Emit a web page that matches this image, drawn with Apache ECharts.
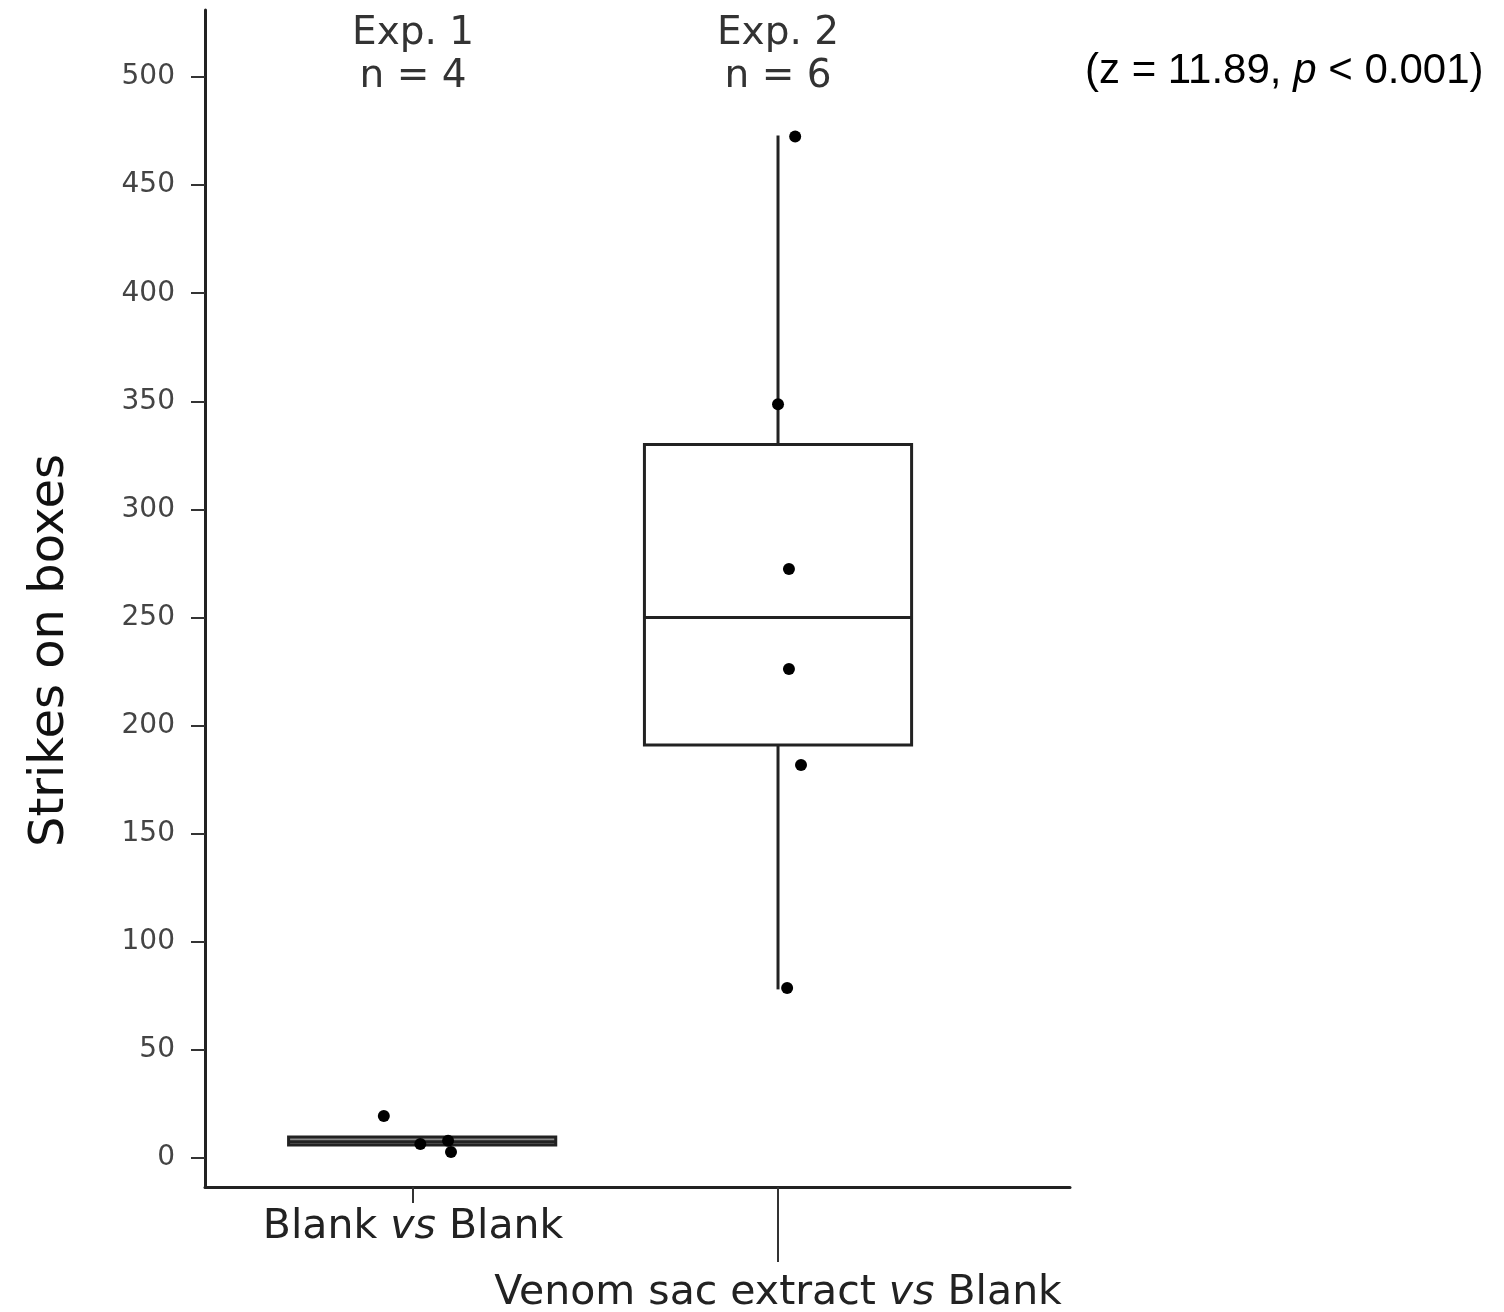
<!DOCTYPE html>
<html><head><meta charset="utf-8">
<script src="https://cdn.jsdelivr.net/npm/echarts@6/dist/echarts.min.js"></script>
<style>html,body{margin:0;padding:0;background:#fff}#c{width:1504px;height:1312px}</style>
</head><body><div id="c"></div>
<script>
const categories = ['Blank vs Blank', 'Venom sac extract vs Blank'];
const catItalic = [['Blank ', 'vs', ' Blank'], ['Venom sac extract ', 'vs', ' Blank']];
const positions = [1, 2];
const boxCenters = [1.025, 2.0];
const expTitles = ['Exp. 1', 'Exp. 2'];
const expN = [4, 6];
// box stats: [lower whisker, Q1, median, Q3, upper whisker]
const exp1Stats = [6, 6, 7.5, 9.7, 9.7];
const exp2Stats = [78, 191, 250, 330, 473];
const exp1PtX = [0.92, 1.02, 1.096, 1.104];
const exp1PtY = [19.4, 6.5, 8, 2.8];
const exp2PtX = [2.047, 2.0, 2.03, 2.03, 2.063, 2.025];
const exp2PtY = [472.5, 348.7, 272.4, 226.2, 181.8, 78.6];
const yTicks = [0, 50, 100, 150, 200, 250, 300, 350, 400, 450, 500];
const statText = ['(z = 11.89, ', 'p', ' < 0.001)'];

const chart = echarts.init(document.getElementById('c'));
const boxData = [[boxCenters[0]].concat(exp1Stats), [boxCenters[1]].concat(exp2Stats)];
const boxFill = ['#8a8a8a', '#ffffff'];
const halfW = 0.366;
const font = 'DejaVu Sans';
const lab = (parts, size) => ({
  formatter: () => '{a|' + parts[0] + '}{i|' + parts[1] + '}{a|' + parts[2] + '}',
  rich: { a: { fontFamily: font, fontSize: size, color: '#222' },
          i: { fontFamily: font, fontSize: size, fontStyle: 'italic', color: '#222' } }
});

chart.setOption({
  animation: false,
  backgroundColor: '#fff',
  grid: { left: 205, top: 10, right: 434, bottom: 125, containLabel: false, outerBoundsMode: 'none' },
  xAxis: [
    { type: 'value', min: 0.43, max: 2.8, position: 'bottom',
      axisLine: { show: true, onZero: false, lineStyle: { color: '#222', width: 3 } },
      splitLine: { show: false },
      axisTick: { show: true, customValues: [positions[0]], length: 16, lineStyle: { color: '#333', width: 2 } },
      axisLabel: Object.assign({ customValues: [positions[0]], margin: 20 }, lab(catItalic[0], 41)) },
    { type: 'value', min: 0.43, max: 2.8, position: 'bottom',
      axisLine: { show: false, onZero: false },
      splitLine: { show: false },
      axisTick: { show: true, customValues: [positions[1]], length: 75, lineStyle: { color: '#333', width: 2 } },
      axisLabel: Object.assign({ customValues: [positions[1]], margin: 86 }, lab(catItalic[1], 41)) },
    { type: 'value', min: 0.43, max: 2.8, position: 'top',
      axisLine: { show: false, onZero: false }, axisTick: { show: false }, splitLine: { show: false },
      axisLabel: { customValues: positions, margin: -88, fontFamily: font, fontSize: 39, lineHeight: 43, color: '#333',
        formatter: v => { const i = positions.indexOf(v); return expTitles[i] + '\nn = ' + expN[i]; } } }
  ],
  yAxis: {
    type: 'value', min: -13.4, max: 531,
    name: 'Strikes on boxes', nameLocation: 'middle', nameGap: 130,
    nameTextStyle: { fontFamily: font, fontSize: 48, color: '#111', padding: [0, 104, 0, 0] },
    axisLine: { show: true, lineStyle: { color: '#222', width: 3 } },
    splitLine: { show: false },
    axisTick: { show: true, customValues: yTicks, length: 14, lineStyle: { color: '#333', width: 2 } },
    axisLabel: { customValues: yTicks, margin: 30, fontFamily: font, fontSize: 28, color: '#444' }
  },
  series: [
    { type: 'custom', xAxisIndex: 0, data: boxData, z: 2,
      renderItem: (params, api) => {
        const x = api.value(0);
        const lo = api.coord([x, api.value(1)]);
        const q1 = api.coord([x - halfW, api.value(2)]);
        const med = api.coord([x, api.value(3)]);
        const q3 = api.coord([x + halfW, api.value(4)]);
        const hi = api.coord([x, api.value(5)]);
        const style = { stroke: '#222', lineWidth: 3, fill: null };
        const fill = boxFill[params.dataIndex];
        return { type: 'group', children: [
          { type: 'line', shape: { x1: hi[0], y1: hi[1], x2: hi[0], y2: q3[1] }, style },
          { type: 'line', shape: { x1: lo[0], y1: q1[1], x2: lo[0], y2: lo[1] }, style },
          { type: 'rect', shape: { x: q1[0], y: q3[1], width: q3[0] - q1[0], height: q1[1] - q3[1] },
            style: { stroke: '#222', lineWidth: 3, fill } },
          { type: 'line', shape: { x1: q1[0], y1: med[1], x2: q3[0], y2: med[1] }, style }
        ] };
      } },
    { type: 'scatter', xAxisIndex: 0, symbolSize: 12, itemStyle: { color: '#000', opacity: 1 }, z: 3,
      data: exp1PtX.map((x, i) => [x, exp1PtY[i]]) },
    { type: 'scatter', xAxisIndex: 0, symbolSize: 12, itemStyle: { color: '#000', opacity: 1 }, z: 3,
      data: exp2PtX.map((x, i) => [x, exp2PtY[i]]) }
  ],
  graphic: [
    { type: 'text', left: 1085, top: 50,
      style: { text: '{a|' + statText[0] + '}{i|' + statText[1] + '}{a|' + statText[2] + '}',
        rich: { a: { fontFamily: 'Liberation Sans', fontSize: 42, fill: '#000' },
                i: { fontFamily: 'Liberation Sans', fontSize: 42, fontStyle: 'italic', fill: '#000' } } } }
  ]
});
</script></body></html>
